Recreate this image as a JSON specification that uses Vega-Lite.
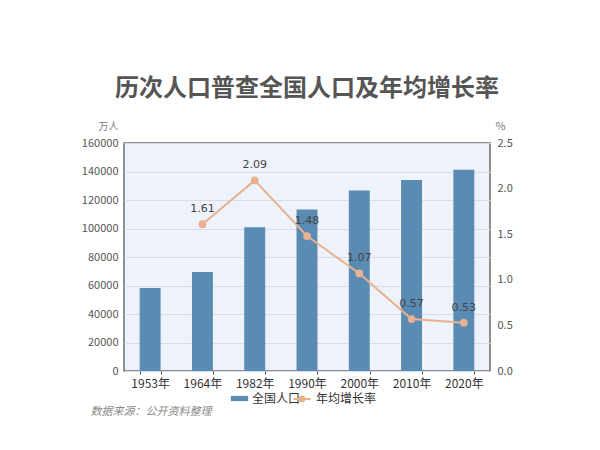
{
  "$schema": "https://vega.github.io/schema/vega-lite/v6.json",
  "width": 366,
  "height": 228,
  "autosize": "none",
  "padding": {"left": 124, "top": 143, "right": 110, "bottom": 79},
  "background": "white",
  "title": {
    "text": "历次人口普查全国人口及年均增长率",
    "font": "Noto Sans CJK SC",
    "fontSize": 24,
    "fontWeight": "bold",
    "color": "#555555",
    "anchor": "middle",
    "offset": 19
  },
  "config": {
    "view": {"fill": "#eef2fa", "stroke": "#6e6e6e", "strokeWidth": 1.5},
    "font": "Noto Sans CJK SC"
  },
  "data": {
    "values": [
      {"year": "1953年", "pop": 58260, "rate": null},
      {"year": "1964年", "pop": 69458, "rate": 1.61},
      {"year": "1982年", "pop": 100818, "rate": 2.09},
      {"year": "1990年", "pop": 113368, "rate": 1.48},
      {"year": "2000年", "pop": 126583, "rate": 1.07},
      {"year": "2010年", "pop": 133972, "rate": 0.57},
      {"year": "2020年", "pop": 141178, "rate": 0.53}
    ]
  },
  "encoding": {
    "x": {
      "field": "year",
      "type": "ordinal",
      "sort": null,
      "scale": {"paddingInner": 0.6, "paddingOuter": 0.3},
      "axis": {
        "title": "数据来源：公开资料整理",
        "titleFontStyle": "italic",
        "titleFontWeight": "normal",
        "titleFontSize": 11,
        "titleColor": "#888888",
        "titleAlign": "left",
        "titleAnchor": null,
        "titleX": -34,
        "titleY": 34,
        "labelAngle": 0,
        "labelFontSize": 12,
        "labelColor": "#333333",
        "labelPadding": 4,
        "domain": false,
        "ticks": true,
        "tickBand": "extent",
        "tickSize": 3,
        "tickColor": "#555555",
        "grid": false
      }
    }
  },
  "layer": [
    {
      "mark": {"type": "bar"},
      "encoding": {
        "y": {
          "field": "pop",
          "type": "quantitative",
          "scale": {"domain": [0, 160000]},
          "axis": {
            "title": "万人",
            "titleAngle": 0,
            "titleX": -16,
            "titleY": -17,
            "titleAlign": "center",
            "titleBaseline": "middle",
            "titleFontSize": 10,
            "titleFontWeight": "normal",
            "titleColor": "#777777",
            "values": [0, 20000, 40000, 60000, 80000, 100000, 120000, 140000, 160000],
            "format": "d",
            "labelFontSize": 11,
            "labelColor": "#555555",
            "labelPadding": 6,
            "domain": false,
            "ticks": false,
            "grid": true,
            "gridColor": "#d6dceb"
          }
        },
        "fill": {
          "datum": "全国人口",
          "scale": {"range": ["#5a8bb3"]},
          "legend": {
            "orient": "none",
            "legendX": 106,
            "legendY": 246,
            "title": null,
            "symbolType": "M-1,-0.3H1V0.3H-1Z",
            "symbolSize": 300,
            "labelFontSize": 12,
            "labelColor": "#333333",
            "labelOffset": 3
          }
        }
      }
    },
    {
      "layer": [
        {
          "mark": {"type": "line", "strokeWidth": 2},
          "encoding": {
            "stroke": {
              "datum": "年均增长率",
              "scale": {"range": ["#e8b18f"]},
              "legend": {
                "orient": "none",
                "legendX": 168,
                "legendY": 246,
                "title": null,
                "symbolType": "M-1,0H-0.28M0.28,0H1M0.28,0A0.28,0.28 0 1 1 -0.28,0A0.28,0.28 0 1 1 0.28,0Z",
                "symbolSize": 300,
                "symbolStrokeWidth": 2,
                "symbolFillColor": "#e8b18f",
                "labelFontSize": 12,
                "labelColor": "#333333",
                "labelOffset": 4
              }
            }
          }
        },
        {
          "mark": {"type": "circle", "size": 60, "color": "#e8b18f", "opacity": 1}
        },
        {
          "mark": {"type": "text", "dy": -15, "fontSize": 11, "color": "#444444", "font": "DejaVu Sans"},
          "encoding": {"text": {"field": "rate", "type": "quantitative"}}
        }
      ],
      "encoding": {
        "y": {
          "field": "rate",
          "type": "quantitative",
          "scale": {"domain": [0, 2.5]},
          "axis": {
            "orient": "right",
            "title": "%",
            "titleAngle": 0,
            "titleX": 10,
            "titleY": -17,
            "titleAlign": "center",
            "titleBaseline": "middle",
            "titleFontSize": 11,
            "titleFontWeight": "normal",
            "titleColor": "#777777",
            "values": [0, 0.5, 1, 1.5, 2, 2.5],
            "labelFontSize": 11,
            "labelColor": "#555555",
            "labelPadding": 7,
            "domain": false,
            "ticks": false,
            "grid": false
          }
        }
      }
    }
  ],
  "resolve": {"scale": {"y": "independent"}}
}
